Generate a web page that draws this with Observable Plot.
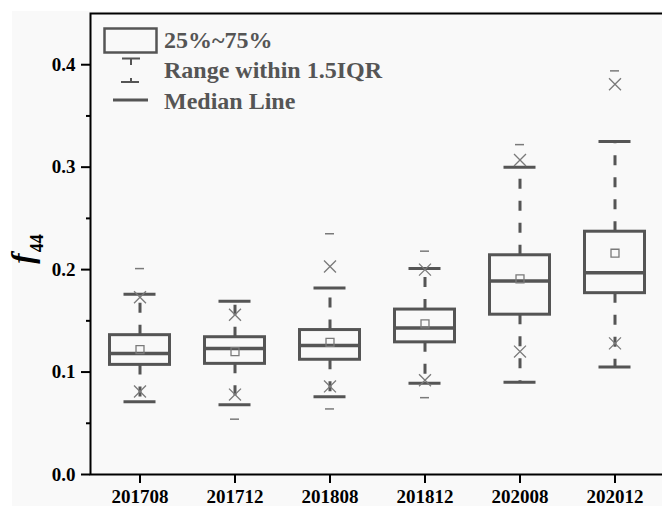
<!DOCTYPE html>
<html>
<head>
<meta charset="utf-8">
<script src="https://cdn.jsdelivr.net/npm/d3@7"></script>
<script src="https://cdn.jsdelivr.net/npm/@observablehq/plot@0.6"></script>
<style>
  html, body { margin: 0; padding: 0; background: #ffffff; overflow: hidden; }
  #wrap { position: relative; width: 662px; height: 506px; }
  #paper { position: absolute; left: 12px; top: 11px; right: 0; bottom: 0; background: #f9f9f9; }
  #chart { position: absolute; left: 0; top: 0; }
</style>
</head>
<body>
<div id="wrap"><div id="paper"></div><div id="chart"></div></div>
<script>
// Sampling periods (x categories)
const periods = ["201708", "201712", "201808", "201812", "202008", "202012"];
// Box statistics of f44 per period
const q1          = [0.107, 0.108, 0.112, 0.129, 0.156, 0.177];
const median      = [0.118, 0.123, 0.126, 0.143, 0.189, 0.197];
const q3          = [0.136, 0.134, 0.141, 0.161, 0.214, 0.237];
const whiskerLow  = [0.071, 0.068, 0.076, 0.089, 0.090, 0.105];
const whiskerHigh = [0.176, 0.169, 0.182, 0.201, 0.300, 0.325];
const mean        = [0.122, 0.120, 0.129, 0.147, 0.191, 0.216];
const p1          = [0.081, 0.078, 0.086, 0.092, 0.120, 0.128];
const p99         = [0.173, 0.156, 0.203, 0.200, 0.307, 0.381];
const minimum     = [0.071, 0.054, 0.064, 0.075, 0.090, 0.105];
const maximum     = [0.201, 0.169, 0.235, 0.218, 0.322, 0.394];
// Axis ticks
const majorTicks = [0, 0.1, 0.2, 0.3, 0.4];
const minorTicks = [0.05, 0.15, 0.25, 0.35];

const rows = periods.map((p, i) => ({
  period: p, q1: q1[i], median: median[i], q3: q3[i],
  lo: whiskerLow[i], hi: whiskerHigh[i], mean: mean[i],
  p1: p1[i], p99: p99[i], min: minimum[i], max: maximum[i]
}));

const ink = "#555555";
const faint = "#7a7a7a";
const serif = "'Liberation Serif', 'Times New Roman', serif";

const svg = Plot.plot({
  width: 662,
  height: 506,
  marginLeft: 90,
  marginRight: -2,
  marginTop: 13,
  marginBottom: 32,
  style: {
    background: "transparent",
    fontFamily: serif,
    fontWeight: "bold",
    fontSize: "19px",
    color: "#000"
  },
  x: {type: "band", domain: periods, padding: 0, axis: null},
  y: {domain: [0, 0.45], axis: null},
  marks: [
    Plot.frame({stroke: "#000", strokeWidth: 2}),
    Plot.axisY(majorTicks, {tickSize: 9, tickPadding: 6, tickFormat: d3.format(".1f"), strokeWidth: 2, fontSize: 19, fontWeight: "bold", label: null}),
    Plot.axisY(minorTicks, {tickSize: 4, tickFormat: () => "", strokeWidth: 2, label: null}),
    Plot.axisX({tickSize: 9, tickPadding: 6, strokeWidth: 2, fontSize: 19, fontWeight: "bold", label: null}),
    // dashed whiskers
    Plot.ruleX(rows, {x: "period", y1: "q3", y2: "hi", stroke: ink, strokeWidth: 3, strokeDasharray: "10,12"}),
    Plot.ruleX(rows, {x: "period", y1: "q1", y2: "lo", stroke: ink, strokeWidth: 3, strokeDasharray: "10,12"}),
    // min / max markers
    Plot.tickY(rows, {x: "period", y: "min", stroke: faint, strokeWidth: 1.5, insetLeft: 43, insetRight: 43}),
    Plot.tickY(rows, {x: "period", y: "max", stroke: faint, strokeWidth: 1.5, insetLeft: 43, insetRight: 43}),
    // whisker caps
    Plot.tickY(rows, {x: "period", y: "lo", stroke: ink, strokeWidth: 3, insetLeft: 31.5, insetRight: 31.5}),
    Plot.tickY(rows, {x: "period", y: "hi", stroke: ink, strokeWidth: 3, insetLeft: 31.5, insetRight: 31.5}),
    // interquartile box
    Plot.barY(rows, {x: "period", y1: "q1", y2: "q3", fill: "none", stroke: ink, strokeWidth: 3, insetLeft: 17.5, insetRight: 17.5}),
    // median
    Plot.tickY(rows, {x: "period", y: "median", stroke: ink, strokeWidth: 3.5, insetLeft: 16, insetRight: 16}),
    // mean
    Plot.dot(rows, {x: "period", y: "mean", symbol: "square", r: 4.5, stroke: faint, strokeWidth: 1.3, fill: "none"}),
    // 1% and 99% percentiles
    Plot.dot(rows, {x: "period", y: "p1", symbol: "times", r: 5.5, stroke: faint, strokeWidth: 1.3}),
    Plot.dot(rows, {x: "period", y: "p99", symbol: "times", r: 5.5, stroke: faint, strokeWidth: 1.3})
  ]
});

const root = d3.select(svg);

// y-axis title: italic f with subscript 44
const ylab = root.append("text")
  .attr("transform", "translate(33,249) rotate(-90)")
  .attr("text-anchor", "middle")
  .attr("fill", "#000")
  .style("font-family", serif)
  .style("font-weight", "bold");
ylab.append("tspan").style("font-style", "italic").style("font-size", "31px").text("f");
ylab.append("tspan").attr("dy", 10).attr("dx", 1).style("font-size", "18px").text("44");

// legend
const lg = root.append("g").attr("fill", "none").attr("stroke", ink);
lg.append("rect").attr("x", 104.5).attr("y", 28.5).attr("width", 52).attr("height", 24).attr("stroke-width", 2.5);
lg.append("path").attr("d", "M122,58.5H140M131,58.5V65").attr("stroke-width", 2);
lg.append("path").attr("d", "M131,78V82M121,82H139").attr("stroke-width", 2);
lg.append("path").attr("d", "M113,100H148").attr("stroke-width", 3);
const labels = [["25%~75%", 48], ["Range within 1.5IQR", 78], ["Median Line", 109]];
root.append("g")
  .attr("fill", ink)
  .attr("text-anchor", "start")
  .style("font-family", serif)
  .style("font-weight", "bold")
  .style("font-size", "24px")
  .selectAll("text")
  .data(labels)
  .join("text")
  .attr("x", 164)
  .attr("y", d => d[1])
  .text(d => d[0]);

document.getElementById("chart").append(svg);
</script>
</body>
</html>
